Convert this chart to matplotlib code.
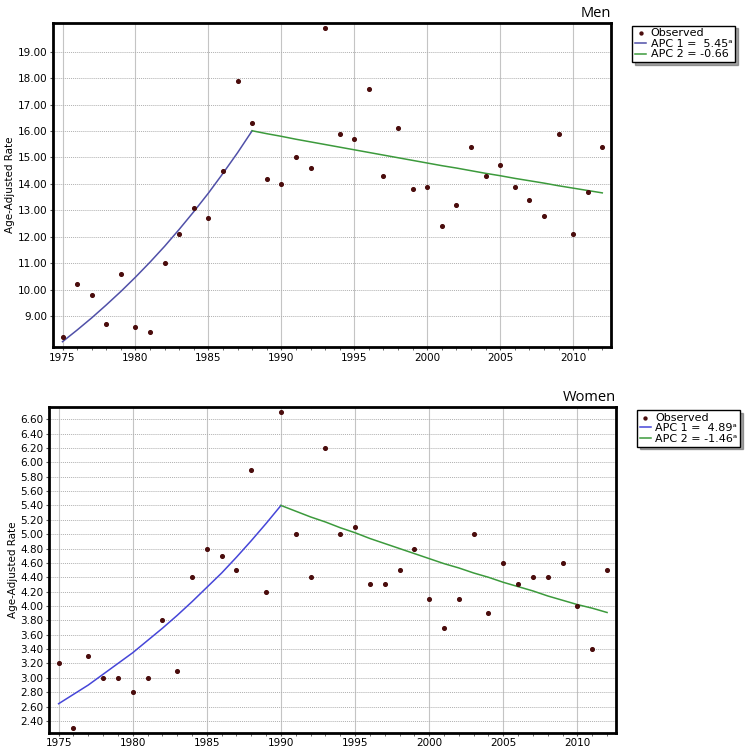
import matplotlib
matplotlib.use("Agg")
import matplotlib.pyplot as plt
from matplotlib.ticker import MultipleLocator, FormatStrFormatter

years = list(range(1975, 2013))

# observed age-adjusted rates
men_obs = [8.2, 10.2, 9.8, 8.7, 10.6, 8.6, 8.4, 11.0, 12.1, 13.1,
           12.7, 14.5, 17.9, 16.3, 14.2, 14.0, 15.0, 14.6, 19.9, 15.9,
           15.7, 17.6, 14.3, 16.1, 13.8, 13.9, 12.4, 13.2, 15.4, 14.3,
           14.7, 13.9, 13.4, 12.8, 15.9, 12.1, 13.7, 15.4]
women_obs = [3.2, 2.3, 3.3, 3.0, 3.0, 2.8, 3.0, 3.8, 3.1, 4.4,
             4.8, 4.7, 4.5, 5.9, 4.2, 6.7, 5.0, 4.4, 6.2, 5.0,
             5.1, 4.3, 4.3, 4.5, 4.8, 4.1, 3.7, 4.1, 5.0, 3.9,
             4.6, 4.3, 4.4, 4.4, 4.6, 4.0, 3.4, 4.5]

# fitted joinpoint segments
men_seg1_years = list(range(1975, 1989))
men_seg1 = [8.03, 8.47, 8.93, 9.42, 9.93, 10.47, 11.04, 11.64, 12.28, 12.95,
            13.65, 14.40, 15.18, 16.01]
men_seg2_years = list(range(1988, 2013))
men_seg2 = [16.01, 15.90, 15.80, 15.69, 15.59, 15.49, 15.39, 15.29, 15.19, 15.09,
            14.99, 14.89, 14.79, 14.69, 14.60, 14.50, 14.40, 14.31, 14.21, 14.12,
            14.03, 13.93, 13.84, 13.75, 13.66]

women_seg1_years = list(range(1975, 1991))
women_seg1 = [2.64, 2.77, 2.90, 3.05, 3.20, 3.35, 3.52, 3.69, 3.87, 4.06,
              4.26, 4.46, 4.68, 4.91, 5.15, 5.40]
women_seg2_years = list(range(1990, 2013))
women_seg2 = [5.40, 5.32, 5.24, 5.17, 5.09, 5.02, 4.94, 4.87, 4.80, 4.73,
              4.66, 4.59, 4.53, 4.46, 4.40, 4.33, 4.27, 4.21, 4.14, 4.08,
              4.02, 3.97, 3.91]

men_labels = ["Observed", "APC 1 =  5.45\u1d43", "APC 2 = -0.66"]
women_labels = ["Observed", "APC 1 =  4.89\u1d43", "APC 2 = -1.46\u1d43"]

pt_color = "#4a0c0c"
blue = "#4646d8"
green = "#3c9a3c"

fig = plt.figure(figsize=(7.5, 7.52), dpi=100)
plt.rcParams['font.family'] = ['DejaVu Sans']


def draw_panel(rect, obs, s1x, s1, s2x, s2, ylim, yticks, title, labels, leg_pos, blue_c):
    ax = fig.add_axes(rect)
    ax.scatter(years, obs, s=7, color=pt_color, zorder=3, label=labels[0])
    ax.plot(s1x, s1, color=blue_c, lw=1.1, zorder=2, label=labels[1])
    ax.plot(s2x, s2, color=green, lw=1.1, zorder=2, label=labels[2])
    ax.set_xlim(1974.35, 2012.6)
    ax.set_ylim(*ylim)
    ax.set_yticks(yticks)
    ax.xaxis.set_major_locator(MultipleLocator(5))
    ax.xaxis.set_minor_locator(MultipleLocator(1))
    ax.yaxis.set_major_formatter(FormatStrFormatter("%.2f"))
    ax.xaxis.grid(True, which="major", color="#c4c4c4", lw=0.8, ls="-")
    ax.yaxis.grid(True, which="major", color="#b0b0b0", lw=0.7, ls=(0, (1, 1)))
    ax.tick_params(labelsize=7.5, length=2, color="#555555", pad=2)
    ax.tick_params(which="minor", length=2, color="#555555")
    for sp in ax.spines.values():
        sp.set_linewidth(2)
    ax.set_ylabel("Age-Adjusted Rate", fontsize=7.5, labelpad=2)
    ax.set_title(title, loc="right", fontsize=10.5, family="Open Sans", pad=4)
    leg = ax.legend(loc="upper left", bbox_to_anchor=leg_pos, bbox_transform=fig.transFigure,
                    fontsize=8, frameon=True, fancybox=False, shadow=True,
                    edgecolor="black", handlelength=1.0, handletextpad=0.4,
                    borderpad=0.25, labelspacing=0.05, markerscale=0.8,
                    borderaxespad=0)
    leg.get_frame().set_linewidth(1.0)
    return ax


ax1 = draw_panel([0.0707, 0.5386, 0.744, 0.4309], men_obs,
                 men_seg1_years, men_seg1, men_seg2_years, men_seg2,
                 (7.83, 20.09), [9, 10, 11, 12, 13, 14, 15, 16, 17, 18, 19],
                 "Men", men_labels, (0.843, 0.966), "#5050a8")

ax2 = draw_panel([0.0653, 0.0257, 0.756, 0.4335], women_obs,
                 women_seg1_years, women_seg1, women_seg2_years, women_seg2,
                 (2.237, 6.775), [2.4 + 0.2 * i for i in range(22)],
                 "Women", women_labels, (0.849, 0.455), blue)

fig.savefig("out.png", dpi=100)
